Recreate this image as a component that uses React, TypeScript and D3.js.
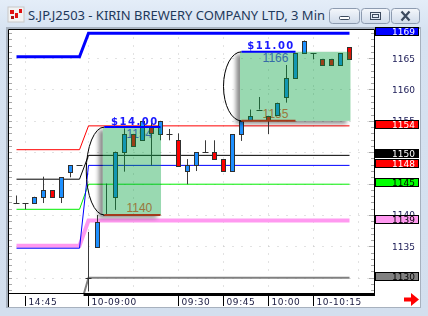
import React from "react";
import * as d3 from "d3";

// ---- data ----
const BAR_INDEX = [-8, -7, -6, -5, -4, -3, -2, -1, 0, 1, 2, 3, 4, 5, 6, 7, 8, 9, 10, 11, 12, 13, 14, 15, 16, 17, 18, 19, 20, 21, 22, 23, 24, 25, 26, 27, 28, 29];
const OPEN = [1141.9, 1141.9, 1141.9, 1142.9, 1143.9, 1142.9, 1146.9, 1147.9, 1130.0, 1134.9, 1140.0, 1142.9, 1150.1, 1152.9, 1151.9, 1154.1, 1152.9, 1152.9, 1151.9, 1147.0, 1147.9, 1150.0, 1150.0, 1148.9, 1147.0, 1152.9, 1155.1, 1156.8, 1155.8, 1155.9, 1158.8, 1161.8, 1165.8, 1165.8, 1164.8, 1164.8, 1163.9, 1166.7];
const HIGH = [1143.1, 1141.9, 1142.9, 1146.1, 1143.9, 1146.0, 1147.9, 1147.9, 1137.3, 1140.0, 1145.0, 1150.1, 1153.8, 1152.9, 1154.9, 1154.7, 1155.0, 1153.7, 1153.0, 1148.9, 1150.0, 1151.9, 1151.9, 1148.9, 1152.9, 1155.0, 1156.8, 1158.8, 1155.8, 1157.9, 1163.9, 1165.8, 1167.8, 1165.8, 1164.8, 1164.8, 1165.8, 1166.7];
const LOW = [1141.9, 1140.9, 1141.9, 1141.9, 1142.9, 1141.9, 1146.0, 1147.9, 1127.8, 1134.9, 1140.0, 1140.8, 1146.9, 1151.0, 1151.9, 1147.9, 1151.9, 1151.9, 1147.8, 1144.9, 1147.0, 1150.0, 1148.9, 1147.0, 1147.0, 1151.8, 1155.1, 1156.8, 1152.9, 1155.9, 1157.9, 1161.8, 1165.8, 1164.8, 1163.9, 1163.9, 1163.9, 1164.8];
const CLOSE = [1141.9, 1141.9, 1142.9, 1143.9, 1142.9, 1146.0, 1147.9, 1147.9, 1130.0, 1138.9, 1140.0, 1150.1, 1152.9, 1151.0, 1154.9, 1153.0, 1154.9, 1152.9, 1147.8, 1147.9, 1150.0, 1150.0, 1148.9, 1147.0, 1152.9, 1155.0, 1155.8, 1156.8, 1155.1, 1157.9, 1161.8, 1165.8, 1167.8, 1165.8, 1163.9, 1163.9, 1165.8, 1164.8];

const TIME_TICK_INDEX = [-7, 0, 10, 15, 20, 25];
const TIME_TICK_LABEL = ["14:45", "10-09:00", "09:30", "09:45", "10:00", "10-10:15"];
const GRID_TIME_INDEX = [-7, 0, 5, 10, 15, 20, 25, 30];
const PRICE_TICKS = [1165, 1160, 1155, 1150, 1145, 1140, 1135, 1130];

const LEVEL_PREV = [1165.2, 1150.4, 1145.7, 1140.9, 1134.7, 1135.1, 1125.0];
const LEVEL_TODAY = [1168.95, 1154.2, 1149.5, 1144.9, 1147.9, 1139.1, 1130.0];
const LEVEL_COLOR = ["#0000ff", "#ff0000", "#000000", "#00ee00", "#0000ff", "#ff99f0", "#808080"];
const LEVEL_WIDTH = [3, 1, 1, 1, 1, 4, 2];
const LEVEL_LABEL = ["1169", "1154", "1150", "1145", "1148", "1139", "1130"];
const LEVEL_LABEL_FILL = ["#0000ff", "#ff0000", "#000000", "#00ff00", "#ff0000", "#ff99f0", "#808080"];
const LEVEL_LABEL_TEXT = ["#ffffff", "#ffffff", "#ffffff", "#000000", "#ffffff", "#000000", "#000000"];
const LEVEL_DRAW_ORDER = [5, 6, 0, 1, 2, 3, 4];

const RANGE_START = [1.75, 17.0];
const RANGE_END = [8.0, 23.0];
const BOX_END = [8.0, 29.05];
const RANGE_HIGH = [1154.0, 1166.0];
const RANGE_LOW = [1140.0, 1155.0];

const TITLE = "S.JP.J2503 - KIRIN BREWERY COMPANY LTD, 3 Min";

export default function App() {
  const x = d3.scaleLinear().domain([-8, 29]).range([16.5, 349.5]);
  const y = d3.scaleLinear().domain([1130, 1169]).range([277.7, 33]);

  const plotL = 8.5, plotT = 29.5, plotR = 374.5, plotB = 293.5;
  const axisFont = "'DejaVu Sans', Verdana, sans-serif";

  const levelLine = d3.line<[number, number]>().x((d) => x(d[0])).y((d) => y(d[1]));

  const unitTicks = d3.range(1128, 1170);

  const boxes = RANGE_START.map((s, k) => {
    const x0 = x(s) - 1.5;
    const x1 = x(BOX_END[k]) + 0.5;
    const yt = y(RANGE_HIGH[k]);
    const yb = y(RANGE_LOW[k]);
    return { x0, x1, yt, yb };
  });

  return (
    <svg width={428} height={316} style={{ position: "absolute", left: 0, top: 0, display: "block" }}>
      <defs>
        <linearGradient id="frame" x1="0" y1="0" x2="0" y2="1">
          <stop offset="0" stopColor="#e4edf8" />
          <stop offset="0.1" stopColor="#d6e2f1" />
          <stop offset="1" stopColor="#d3dfee" />
        </linearGradient>
        <linearGradient id="btn" x1="0" y1="0" x2="0" y2="1">
          <stop offset="0" stopColor="#f4f7fb" />
          <stop offset="0.5" stopColor="#e2e9f3" />
          <stop offset="1" stopColor="#d0dbea" />
        </linearGradient>
        <filter id="blur" x="-50%" y="-50%" width="200%" height="200%">
          <feGaussianBlur stdDeviation="2" />
        </filter>
        <clipPath id="plotClip">
          <rect x={plotL + 0.5} y={plotT + 0.5} width={plotR - plotL - 1} height={plotB - plotT - 0.5} />
        </clipPath>
        <mask id="shadowMask" maskUnits="userSpaceOnUse" x={0} y={0} width={428} height={316}>
          <rect x={0} y={0} width={428} height={316} fill="#fff" />
          {boxes.map((b, k) => (
            <rect key={"m" + k} x={b.x0} y={b.yt} width={b.x1 - b.x0} height={b.yb - b.yt} fill="#000" />
          ))}
        </mask>
      </defs>

      {/* window frame */}
      <rect x={0} y={0} width={428} height={316} fill="url(#frame)" />
      {/* icon */}
      <g>
        <rect x={8} y={7} width={16} height={15} fill="#f2f2f2" stroke="#c8c8c8" />
        <rect x={10} y={10} width={4} height={4} fill="#e01010" />
        <rect x={15} y={13} width={3} height={5} fill="#e01010" />
        <rect x={19} y={9} width={3} height={4} fill="#e01010" />
        <rect x={11} y={16} width={3} height={3} fill="#b01010" />
      </g>
      <text x={28} y={20} fontFamily="'Noto Sans', 'Open Sans', sans-serif" fontSize={12} fill="#1e395b" textLength={297} lengthAdjust="spacingAndGlyphs">{TITLE}</text>
      {/* buttons */}
      <g stroke="#8d9bb0" fill="url(#btn)">
        <rect x={329.5} y={8.5} width={30} height={15} rx={3} />
        <rect x={361.5} y={8.5} width={28} height={15} rx={3} />
        <rect x={391.5} y={8.5} width={28} height={15} rx={3} />
      </g>
      <rect x={339.5} y={16.5} width={10} height={3} rx={1} fill="#ffffff" stroke="#3c4a5e" />
      <rect x={370.5} y={12.5} width={10} height={7} fill="none" stroke="#3c4a5e" strokeWidth={1} />
      <rect x={372.5} y={14.5} width={6} height={3} fill="none" stroke="#3c4a5e" strokeWidth={1} />
      <path d="M401.5,11.5 L409.5,20.5 M409.5,11.5 L401.5,20.5" stroke="#3c4a5e" strokeWidth={2.2} />

      {/* client area */}
      <rect x={6} y={27} width={415} height={281} fill="#a7b1be" />
      <rect x={8} y={29} width={412} height={278} fill="#ffffff" />

      {/* grid */}
      <g stroke="#c4c4c4" strokeWidth={1} strokeDasharray="1 8">
        {PRICE_TICKS.map((p) => (
          <line key={"hg" + p} x1={x(-9)} x2={plotR} y1={Math.round(y(p)) + 0.5} y2={Math.round(y(p)) + 0.5} />
        ))}
      </g>
      <g stroke="#c4c4c4" strokeWidth={1} strokeDasharray="1 7">
        {GRID_TIME_INDEX.map((i) => (
          <line key={"vg" + i} x1={x(i)} x2={x(i)} y1={plotT + 8} y2={plotB} />
        ))}
      </g>
      {/* minor ticks */}
      <g stroke="#a8a8a8" strokeWidth={1}>
        {unitTicks.map((p) => (
          <line key={"lt" + p} x1={9} x2={12} y1={Math.round(y(p)) + 0.5} y2={Math.round(y(p)) + 0.5} />
        ))}
        {unitTicks.map((p) => (
          <line key={"rt" + p} x1={p % 5 === 0 ? 369 : 371} x2={374} y1={Math.round(y(p)) + 0.5} y2={Math.round(y(p)) + 0.5} />
        ))}
      </g>

      <g clipPath="url(#plotClip)">
        {/* level lines */}
        {LEVEL_DRAW_ORDER.map((k) => (
          <path
            key={"lv" + k}
            d={levelLine([
              [-8, LEVEL_PREV[k]],
              [-1, LEVEL_PREV[k]],
              [0, LEVEL_TODAY[k]],
              [29, LEVEL_TODAY[k]],
            ]) as string}
            fill="none"
            stroke={LEVEL_COLOR[k]}
            strokeWidth={LEVEL_WIDTH[k]}
          />
        ))}

        {/* range texts under candles */}
        {RANGE_START.map((s, k) => {
          const cx = (x(s) + x(RANGE_END[k])) / 2 + 7;
          return (
            <g key={"rt" + k} fontFamily="'Liberation Sans', Arial, sans-serif" fontSize={12} textAnchor="middle">
              <text x={cx} y={y(RANGE_HIGH[k]) + 10.5} fill="#5a48f0">{RANGE_HIGH[k].toFixed(0)}</text>
              <text x={cx} y={y(RANGE_LOW[k]) - 3} fill="#ff5a40">{RANGE_LOW[k].toFixed(0)}</text>
            </g>
          );
        })}

        {/* candles */}
        {BAR_INDEX.map((i, k) => {
          const o = OPEN[k], c = CLOSE[k], h = HIGH[k], l = LOW[k];
          const cx = x(i);
          const doji = Math.abs(o - c) < 0.05;
          const top = y(Math.max(o, c));
          const bot = y(Math.min(o, c));
          return (
            <g key={"c" + i}>
              {h - l > 0.05 && <line x1={cx} x2={cx} y1={y(h)} y2={y(l)} stroke="#3a3a3a" strokeWidth={1} />}
              {doji ? (
                <line x1={cx - 3} x2={cx + 3} y1={Math.round(top) + 0.5} y2={Math.round(top) + 0.5} stroke="#303030" strokeWidth={1} />
              ) : (
                <rect
                  x={cx - 2}
                  y={Math.round(top) + 0.5}
                  width={4}
                  height={Math.max(1, Math.round(bot) - Math.round(top))}
                  fill={c > o ? "#1e90ff" : "#ff0000"}
                  stroke="#303030"
                  strokeWidth={1}
                />
              )}
            </g>
          );
        })}

        {/* range boxes */}
        <g mask="url(#shadowMask)">
          {boxes.map((b, k) => (
            <rect key={"sh" + k} x={b.x0 - 4} y={b.yt + 3} width={b.x1 - b.x0} height={b.yb - b.yt} fill="#000000" opacity={0.45} filter="url(#blur)" />
          ))}
        </g>
        {boxes.map((b, k) => (
          <rect key={"bx" + k} x={b.x0} y={b.yt} width={b.x1 - b.x0} height={b.yb - b.yt} fill="#00a03c" opacity={0.4} />
        ))}

        {/* range outlines and labels */}
        {RANGE_START.map((s, k) => {
          const xs = x(s);
          const xe = x(RANGE_END[k]);
          const yt = y(RANGE_HIGH[k]);
          const yb = y(RANGE_LOW[k]);
          const ry = (yb - yt) / 2;
          const cx = (xs + xe) / 2 + 2.5;
          return (
            <g key={"ro" + k}>
              <path d={`M${xs},${yt} A18,${ry} 0 0 0 ${xs},${yb}`} fill="none" stroke="#000" strokeWidth={1} />
              <line x1={xs} x2={xe} y1={yt} y2={yt} stroke="#0000ff" strokeWidth={2} />
              <line x1={xs} x2={xe} y1={yb} y2={yb} stroke="#a33a1c" strokeWidth={2} />
              <text x={cx} y={yt - 2.5} textAnchor="middle" fontFamily={axisFont} fontWeight="bold" fontSize={10} letterSpacing={1.5} fill="#1a1aff">
                {"$" + (RANGE_HIGH[k] - RANGE_LOW[k]).toFixed(2)}
              </text>
            </g>
          );
        })}
      </g>

      {/* bottom heavy line */}
      <line x1={x(-0.55)} x2={plotR} y1={294.5} y2={294.5} stroke="#000" strokeWidth={3} />

      {/* plot frame */}
      <g stroke="#000" strokeWidth={1} fill="none">
        <line x1={plotL} x2={plotL} y1={plotT} y2={307} />
        <line x1={plotL} x2={plotR} y1={plotT} y2={plotT} />
        <line x1={plotR} x2={plotR} y1={plotT} y2={296} />
        <line x1={plotL} x2={plotR} y1={plotB} y2={plotB} />
      </g>

      {/* price axis labels */}
      <g fontFamily={axisFont} fontSize={9} fill="#20205a">
        {PRICE_TICKS.map((p) => (
          <text key={"pl" + p} x={392} y={y(p) + 3.5}>{p}</text>
        ))}
      </g>
      {/* level label boxes */}
      {LEVEL_DRAW_ORDER.map((k) => {
        const yy = y(LEVEL_TODAY[k]);
        return (
          <g key={"lb" + k}>
            <rect x={375.5} y={Math.round(yy - 6) + 0.5} width={43} height={8} fill={LEVEL_LABEL_FILL[k]} stroke="#000" strokeWidth={1} />
            <text x={392} y={Math.round(yy - 6) + 8} fontFamily={axisFont} fontSize={9} fill={LEVEL_LABEL_TEXT[k]}>{LEVEL_LABEL[k]}</text>
          </g>
        );
      })}

      {/* time axis */}
      <g>
        {TIME_TICK_INDEX.map((i, k) => (
          <g key={"tt" + i}>
            <line x1={x(i)} x2={x(i)} y1={296} y2={306} stroke="#000" strokeWidth={1} />
            <text x={x(i) + 3} y={305} fontFamily={axisFont} fontSize={9} letterSpacing={0.6} fill="#1a1a40">{TIME_TICK_LABEL[k]}</text>
          </g>
        ))}
      </g>

      {/* red arrow */}
      <path d="M404,297.5 H411 V293 L419,299.5 L411,306 V301.5 H404 Z" fill="#ff0000" />
    </svg>
  );
}
